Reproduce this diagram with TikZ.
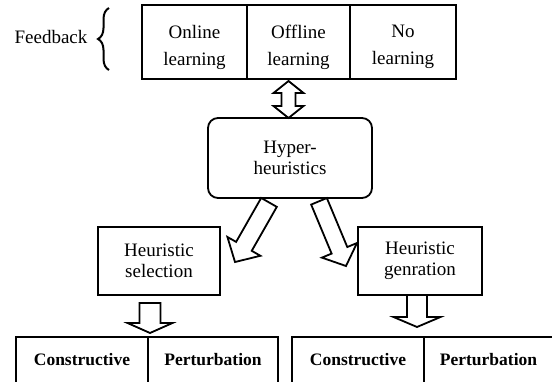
\documentclass[tikz,border=0pt]{standalone}
\usepackage{fontspec}
\setmainfont{Liberation Serif}
\usetikzlibrary{calc,decorations.pathreplacing}
\tikzset{
  cell/.style={draw, line width=1.8pt, inner sep=0pt, align=center, fill=white,
    font=\fontsize{19}{21}\selectfont},
  ttext/.style={inner sep=0pt, align=center, font=\fontsize{19}{27}\selectfont},
  bcell/.style={cell, font=\fontsize{17.5}{21}\selectfont\bfseries},
  arrowsty/.style={draw, line width=1.8pt, fill=white, line join=miter},
  bracesty/.style={line width=2pt, decorate, decoration={brace, amplitude=11pt}}
}
% single block arrow: #1 tail, #2 tip, #3 shaft half width, #4 head half width, #5 head length
\newcommand{\blockarr}[5]{%
  \coordinate (bN) at ($(#2)!#5!(#1)$);
  \draw[arrowsty] ($(#1)!#3!90:(#2)$) -- ($(bN)!#3!90:(#2)$) -- ($(bN)!#4!90:(#2)$) -- (#2)
    -- ($(bN)!#4!-90:(#2)$) -- ($(bN)!#3!-90:(#2)$) -- ($(#1)!#3!-90:(#2)$) -- cycle;}
% double block arrow: #1 tip, #2 tip
\newcommand{\dblarr}[5]{%
  \coordinate (dNa) at ($(#1)!#5!(#2)$);
  \coordinate (dNb) at ($(#2)!#5!(#1)$);
  \draw[arrowsty] (#1) -- ($(dNa)!#4!90:(#2)$) -- ($(dNa)!#3!90:(#2)$) -- ($(dNb)!#3!90:(#2)$)
    -- ($(dNb)!#4!90:(#2)$) -- (#2) -- ($(dNb)!#4!-90:(#2)$) -- ($(dNb)!#3!-90:(#2)$)
    -- ($(dNa)!#3!-90:(#2)$) -- ($(dNa)!#4!-90:(#2)$) -- cycle;}
\begin{document}
\begin{tikzpicture}[x=1pt,y=-1pt]
\useasboundingbox (0,0) rectangle (552,381);
\fill[white] (0,0) rectangle (552,381);
\clip (0,0) rectangle (552,381);

% top row
\node[cell, minimum width=105pt, minimum height=74pt] (online) at (194.5,42) {};
\node[cell, minimum width=103pt, minimum height=74pt] (offline) at (298.5,42) {};
\node[cell, minimum width=106pt, minimum height=74pt] (nolearn) at (403,42) {};
\node[ttext] (onlinet) at (194.5,47) {Online\\learning};
\node[ttext] (offlinet) at (298.5,47) {Offline\\learning};
\node[ttext] (nolearnt) at (403,47) {No\\learning};
\node[font=\fontsize{19}{22}\selectfont, anchor=base, inner sep=0pt] (fb) at (51,43) {Feedback};
\coordinate (brb) at (109,70);
\coordinate (brt) at (109,8);
\draw[bracesty] (brb) -- (brt);

% hyper-heuristics
\node[cell, rounded corners=10pt, minimum width=164pt, minimum height=80pt] (hyper) at (290,158) {Hyper-\\heuristics};

% selection / generation
\node[cell, minimum width=122pt, minimum height=68pt] (sel) at (159,261) {Heuristic\\selection};
\node[cell, minimum width=124pt, minimum height=68pt] (gen) at (420,261) {Heuristic\\genration};

% bottom row
\node[bcell, minimum width=132pt, minimum height=46pt] (con1) at (82,360) {Constructive};
\node[bcell, minimum width=130pt, minimum height=46pt] (per1) at (213,360) {Perturbation};
\node[bcell, minimum width=132pt, minimum height=46pt] (con2) at (358,360) {Constructive};
\node[bcell, minimum width=129pt, minimum height=46pt] (per2) at (488.5,360) {Perturbation};

% arrows
\coordinate (da1) at (288.5,81);
\coordinate (da2) at (288.5,118);
\dblarr{da1}{da2}{7pt}{15pt}{12pt}

\coordinate (ld1) at (269,202.4);
\coordinate (ld2) at (235,262);
\blockarr{ld1}{ld2}{9pt}{19pt}{18pt}

\coordinate (rd1) at (319,201.3);
\coordinate (rd2) at (346,266);
\blockarr{rd1}{rd2}{8.5pt}{19pt}{17pt}

\coordinate (sa1) at (150,303);
\coordinate (sa2) at (150,333);
\blockarr{sa1}{sa2}{10.5pt}{22.5pt}{10pt}

\coordinate (ga1) at (417,295);
\coordinate (ga2) at (417,327);
\blockarr{ga1}{ga2}{10pt}{23.5pt}{10pt}
\end{tikzpicture}
\end{document}
